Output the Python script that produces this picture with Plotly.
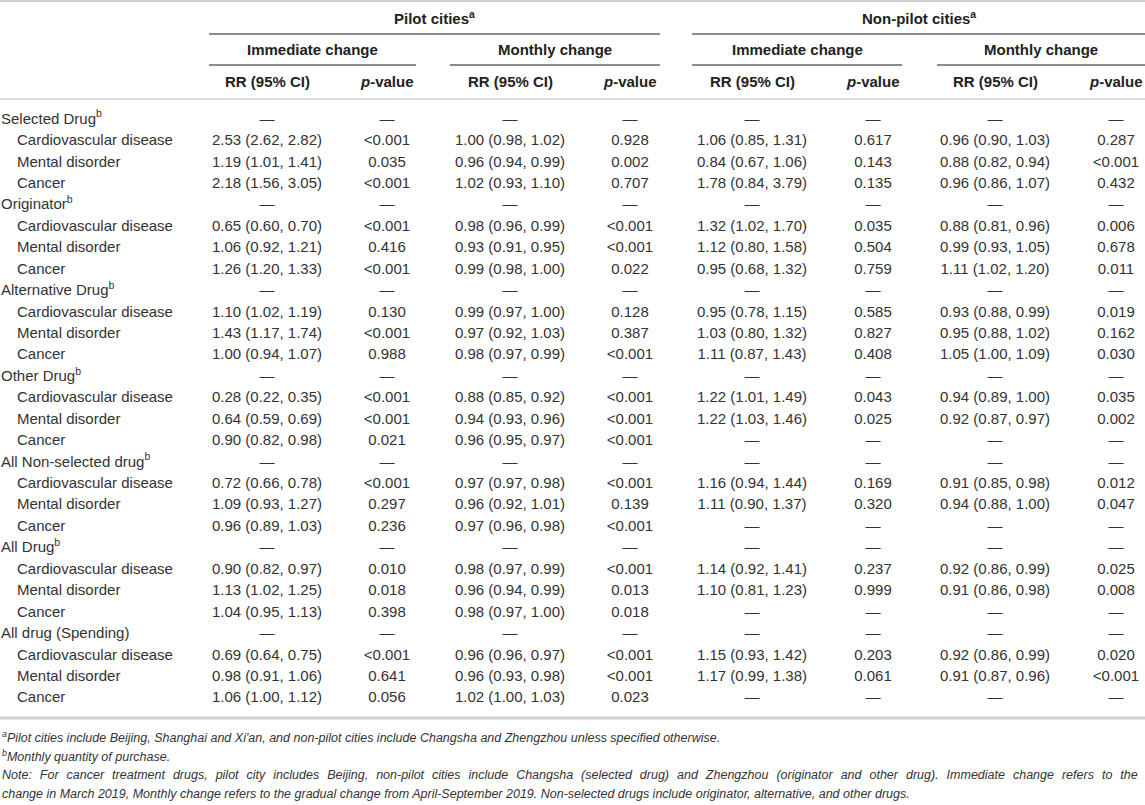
import plotly.graph_objects as go
import numpy as np

#%% Data

groups = ["Selected Drug<sup>b</sup>",
          "Originator<sup>b</sup>",
          "Alternative Drug<sup>b</sup>",
          "Other Drug<sup>b</sup>",
          "All Non-selected drug<sup>b</sup>",
          "All Drug<sup>b</sup>",
          "All drug (Spending)"]
diseases = ["Cardiovascular disease", "Mental disorder", "Cancer"]

# 7 groups x 3 diseases, "—" where no estimate
pilot_imm_rr = ["2.53 (2.62, 2.82)", "1.19 (1.01, 1.41)", "2.18 (1.56, 3.05)",
                "0.65 (0.60, 0.70)", "1.06 (0.92, 1.21)", "1.26 (1.20, 1.33)",
                "1.10 (1.02, 1.19)", "1.43 (1.17, 1.74)", "1.00 (0.94, 1.07)",
                "0.28 (0.22, 0.35)", "0.64 (0.59, 0.69)", "0.90 (0.82, 0.98)",
                "0.72 (0.66, 0.78)", "1.09 (0.93, 1.27)", "0.96 (0.89, 1.03)",
                "0.90 (0.82, 0.97)", "1.13 (1.02, 1.25)", "1.04 (0.95, 1.13)",
                "0.69 (0.64, 0.75)", "0.98 (0.91, 1.06)", "1.06 (1.00, 1.12)"]
pilot_imm_p = ["<0.001", "0.035", "<0.001",
               "<0.001", "0.416", "<0.001",
               "0.130", "<0.001", "0.988",
               "<0.001", "<0.001", "0.021",
               "<0.001", "0.297", "0.236",
               "0.010", "0.018", "0.398",
               "<0.001", "0.641", "0.056"]
pilot_mon_rr = ["1.00 (0.98, 1.02)", "0.96 (0.94, 0.99)", "1.02 (0.93, 1.10)",
                "0.98 (0.96, 0.99)", "0.93 (0.91, 0.95)", "0.99 (0.98, 1.00)",
                "0.99 (0.97, 1.00)", "0.97 (0.92, 1.03)", "0.98 (0.97, 0.99)",
                "0.88 (0.85, 0.92)", "0.94 (0.93, 0.96)", "0.96 (0.95, 0.97)",
                "0.97 (0.97, 0.98)", "0.96 (0.92, 1.01)", "0.97 (0.96, 0.98)",
                "0.98 (0.97, 0.99)", "0.96 (0.94, 0.99)", "0.98 (0.97, 1.00)",
                "0.96 (0.96, 0.97)", "0.96 (0.93, 0.98)", "1.02 (1.00, 1.03)"]
pilot_mon_p = ["0.928", "0.002", "0.707",
               "<0.001", "<0.001", "0.022",
               "0.128", "0.387", "<0.001",
               "<0.001", "<0.001", "<0.001",
               "<0.001", "0.139", "<0.001",
               "<0.001", "0.013", "0.018",
               "<0.001", "<0.001", "0.023"]
non_imm_rr = ["1.06 (0.85, 1.31)", "0.84 (0.67, 1.06)", "1.78 (0.84, 3.79)",
              "1.32 (1.02, 1.70)", "1.12 (0.80, 1.58)", "0.95 (0.68, 1.32)",
              "0.95 (0.78, 1.15)", "1.03 (0.80, 1.32)", "1.11 (0.87, 1.43)",
              "1.22 (1.01, 1.49)", "1.22 (1.03, 1.46)", "—",
              "1.16 (0.94, 1.44)", "1.11 (0.90, 1.37)", "—",
              "1.14 (0.92, 1.41)", "1.10 (0.81, 1.23)", "—",
              "1.15 (0.93, 1.42)", "1.17 (0.99, 1.38)", "—"]
non_imm_p = ["0.617", "0.143", "0.135",
             "0.035", "0.504", "0.759",
             "0.585", "0.827", "0.408",
             "0.043", "0.025", "—",
             "0.169", "0.320", "—",
             "0.237", "0.999", "—",
             "0.203", "0.061", "—"]
non_mon_rr = ["0.96 (0.90, 1.03)", "0.88 (0.82, 0.94)", "0.96 (0.86, 1.07)",
              "0.88 (0.81, 0.96)", "0.99 (0.93, 1.05)", "1.11 (1.02, 1.20)",
              "0.93 (0.88, 0.99)", "0.95 (0.88, 1.02)", "1.05 (1.00, 1.09)",
              "0.94 (0.89, 1.00)", "0.92 (0.87, 0.97)", "—",
              "0.91 (0.85, 0.98)", "0.94 (0.88, 1.00)", "—",
              "0.92 (0.86, 0.99)", "0.91 (0.86, 0.98)", "—",
              "0.92 (0.86, 0.99)", "0.91 (0.87, 0.96)", "—"]
non_mon_p = ["0.287", "<0.001", "0.432",
             "0.006", "0.678", "0.011",
             "0.019", "0.162", "0.030",
             "0.035", "0.002", "—",
             "0.012", "0.047", "—",
             "0.025", "0.008", "—",
             "0.020", "<0.001", "—"]

col_heads = ["RR (95% CI)", "<i>p</i>-value"] * 4
sub_heads = ["Immediate change", "Monthly change"] * 2
city_heads = ["Pilot cities<sup>a</sup>", "Non-pilot cities<sup>a</sup>"]

foot_a = "<sup>a</sup>Pilot cities include Beijing, Shanghai and Xi'an, and non-pilot cities include Changsha and Zhengzhou unless specified otherwise."
foot_b = "<sup>b</sup>Monthly quantity of purchase."
note_1 = "Note: For cancer treatment drugs, pilot city includes Beijing, non-pilot cities include Changsha (selected drug) and Zhengzhou (originator and other drug). Immediate change refers to the"
note_2 = "change in March 2019, Monthly change refers to the gradual change from April-September 2019. Non-selected drugs include originator, alternative, and other drugs."

#%% Layout settings

W, H = 1145, 805
FONT = "Liberation Sans, Arial, sans-serif"
TXT = "#333333"
col_x = [267, 387, 510, 630, 752, 873, 995, 1116]
y0, dy = 120, 21.43

columns = [pilot_imm_rr, pilot_imm_p, pilot_mon_rr, pilot_mon_p,
           non_imm_rr, non_imm_p, non_mon_rr, non_mon_p]

# build full rows: group row (all dashes) + 3 disease rows
labels, label_x, cells = [], [], [[] for _ in columns]
for g, grp in enumerate(groups):
    labels.append(grp)
    label_x.append(1)
    for c in cells:
        c.append("—")
    for d, dis in enumerate(diseases):
        labels.append(dis)
        label_x.append(17)
        for c, col in zip(cells, columns):
            c.append(col[g * 3 + d])

row_y = y0 + dy * np.arange(len(labels))

# first note line is justified to full width in the source
note_1_just = note_1.replace(" ", " \u00a0\u200a")

#%% Plotting

fig = go.Figure()

fig.add_trace(go.Scatter(
    x=label_x, y=row_y, text=labels, mode="text",
    textposition="middle right",
    textfont=dict(family=FONT, size=15, color=TXT),
    hoverinfo="skip"))

for cx, c in zip(col_x, cells):
    fig.add_trace(go.Scatter(
        x=[cx] * len(c), y=row_y, text=c, mode="text",
        textposition="middle center",
        textfont=dict(family=FONT, size=15, color=TXT),
        hoverinfo="skip"))

ann = []
for cx, t in zip(col_x, col_heads):
    ann.append(dict(x=cx, y=81, text="<b>" + t + "</b>", showarrow=False,
                    font=dict(family=FONT, size=15, color="#222")))

sub_spans = [(209, 416), (450, 660), (692, 902), (937, 1145)]
for (a, b), t in zip(sub_spans, sub_heads):
    ann.append(dict(x=(a + b) / 2, y=49, text="<b>" + t + "</b>", showarrow=False,
                    font=dict(family=FONT, size=15, color="#222")))

city_spans = [(209, 660), (692, 1145)]
for (a, b), t in zip(city_spans, city_heads):
    ann.append(dict(x=(a + b) / 2, y=17, text="<b>" + t + "</b>", showarrow=False,
                    font=dict(family=FONT, size=15, color="#222")))

for yy, t in zip([737, 756, 775, 794], [foot_a, foot_b, note_1_just, note_2]):
    ann.append(dict(x=0, y=yy, text="<i>" + t + "</i>", showarrow=False,
                    xanchor="left", font=dict(family=FONT, size=12.5, color=TXT)))

for a in ann:
    a.update(xref="x", yref="y")

shapes = []
# light rules across whole width
for yy, w in [(1, 2), (99, 1.5), (718, 3)]:
    shapes.append(dict(type="line", xref="x", yref="y", x0=0, x1=W, y0=yy, y1=yy,
                       line=dict(color="#d0d0d0", width=w)))
# dark rules under spanning headers
for (a, b) in city_spans:
    shapes.append(dict(type="line", xref="x", yref="y", x0=a, x1=b, y0=34, y1=34,
                       line=dict(color="#666666", width=1.5)))
for (a, b) in sub_spans:
    shapes.append(dict(type="line", xref="x", yref="y", x0=a, x1=b, y0=65, y1=65,
                       line=dict(color="#666666", width=1.5)))

fig.update_layout(
    width=W, height=H,
    margin=dict(l=0, r=0, t=0, b=0),
    paper_bgcolor="white", plot_bgcolor="white",
    showlegend=False,
    annotations=ann, shapes=shapes,
    xaxis=dict(range=[0, W], visible=False, fixedrange=True),
    yaxis=dict(range=[H, 0], visible=False, fixedrange=True),
)

# page body has a default 8px margin, drop it so the figure fills the window
fig.write_html("out.html", config={"displayModeBar": False},
               post_script="document.body.style.margin='0px';")
